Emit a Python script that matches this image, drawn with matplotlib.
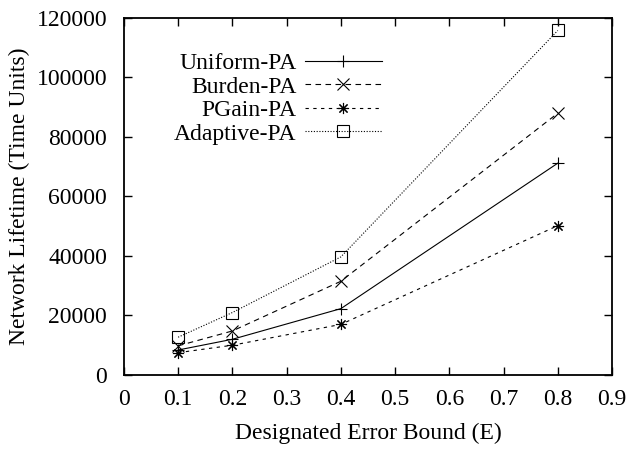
import matplotlib
matplotlib.use("Agg")
import matplotlib.pyplot as plt

plt.rcParams["font.family"] = ["Liberation Serif", "DejaVu Serif"]
plt.rcParams["font.size"] = 17

# Lifetime per designated error bound
error_bound = [0.1, 0.2, 0.4, 0.8]
uniform_pa = [8400, 12000, 22300, 71200]
burden_pa = [9800, 14800, 31500, 88000]
pgain_pa = [7500, 10000, 17000, 50200]
adaptive_pa = [12700, 21000, 39700, 115800]

series = [
    ("Uniform-PA", uniform_pa, "-", "+"),
    ("Burden-PA", burden_pa, (0, (5, 4)), "x"),
    ("PGain-PA", pgain_pa, (0, (3, 4)), (8, 2, 0)),
    ("Adaptive-PA", adaptive_pa, (0, (1, 1.5)), "s"),
]

fig = plt.figure(figsize=(6.29, 4.5), dpi=100)
ax = fig.add_axes([0.197, 0.1667, 0.776, 0.7933])

for label, values, ls, marker in series:
    ax.plot(error_bound, values, color="black", linestyle=ls, linewidth=0.8,
            marker=marker, markersize=8, markerfacecolor="none",
            markeredgecolor="black", markeredgewidth=0.8, label=label)

ax.set_xlim(0, 0.9)
ax.set_ylim(0, 120000)
ax.set_xticks([0, 0.1, 0.2, 0.3, 0.4, 0.5, 0.6, 0.7, 0.8, 0.9])
ax.set_xticklabels(["0", "0.1", "0.2", "0.3", "0.4", "0.5", "0.6", "0.7", "0.8", "0.9"])
ax.set_yticks(range(0, 120001, 20000))
ax.tick_params(direction="in", length=6, width=1, top=True, right=True)
ax.tick_params(axis="x", pad=10)
ax.tick_params(axis="y", pad=12)
for sp in ax.spines.values():
    sp.set_linewidth(1.3)

ax.set_xlabel("Designated Error Bound (E)", labelpad=9)
ax.set_ylabel("Network Lifetime (Time Units)", labelpad=5)

leg = ax.legend(loc="upper right", bbox_to_anchor=(0.548, 0.929), frameon=False,
                markerfirst=False, handlelength=3.26, handletextpad=0.35,
                labelspacing=0.08, borderaxespad=0)

fig.savefig("out.png", dpi=100)
